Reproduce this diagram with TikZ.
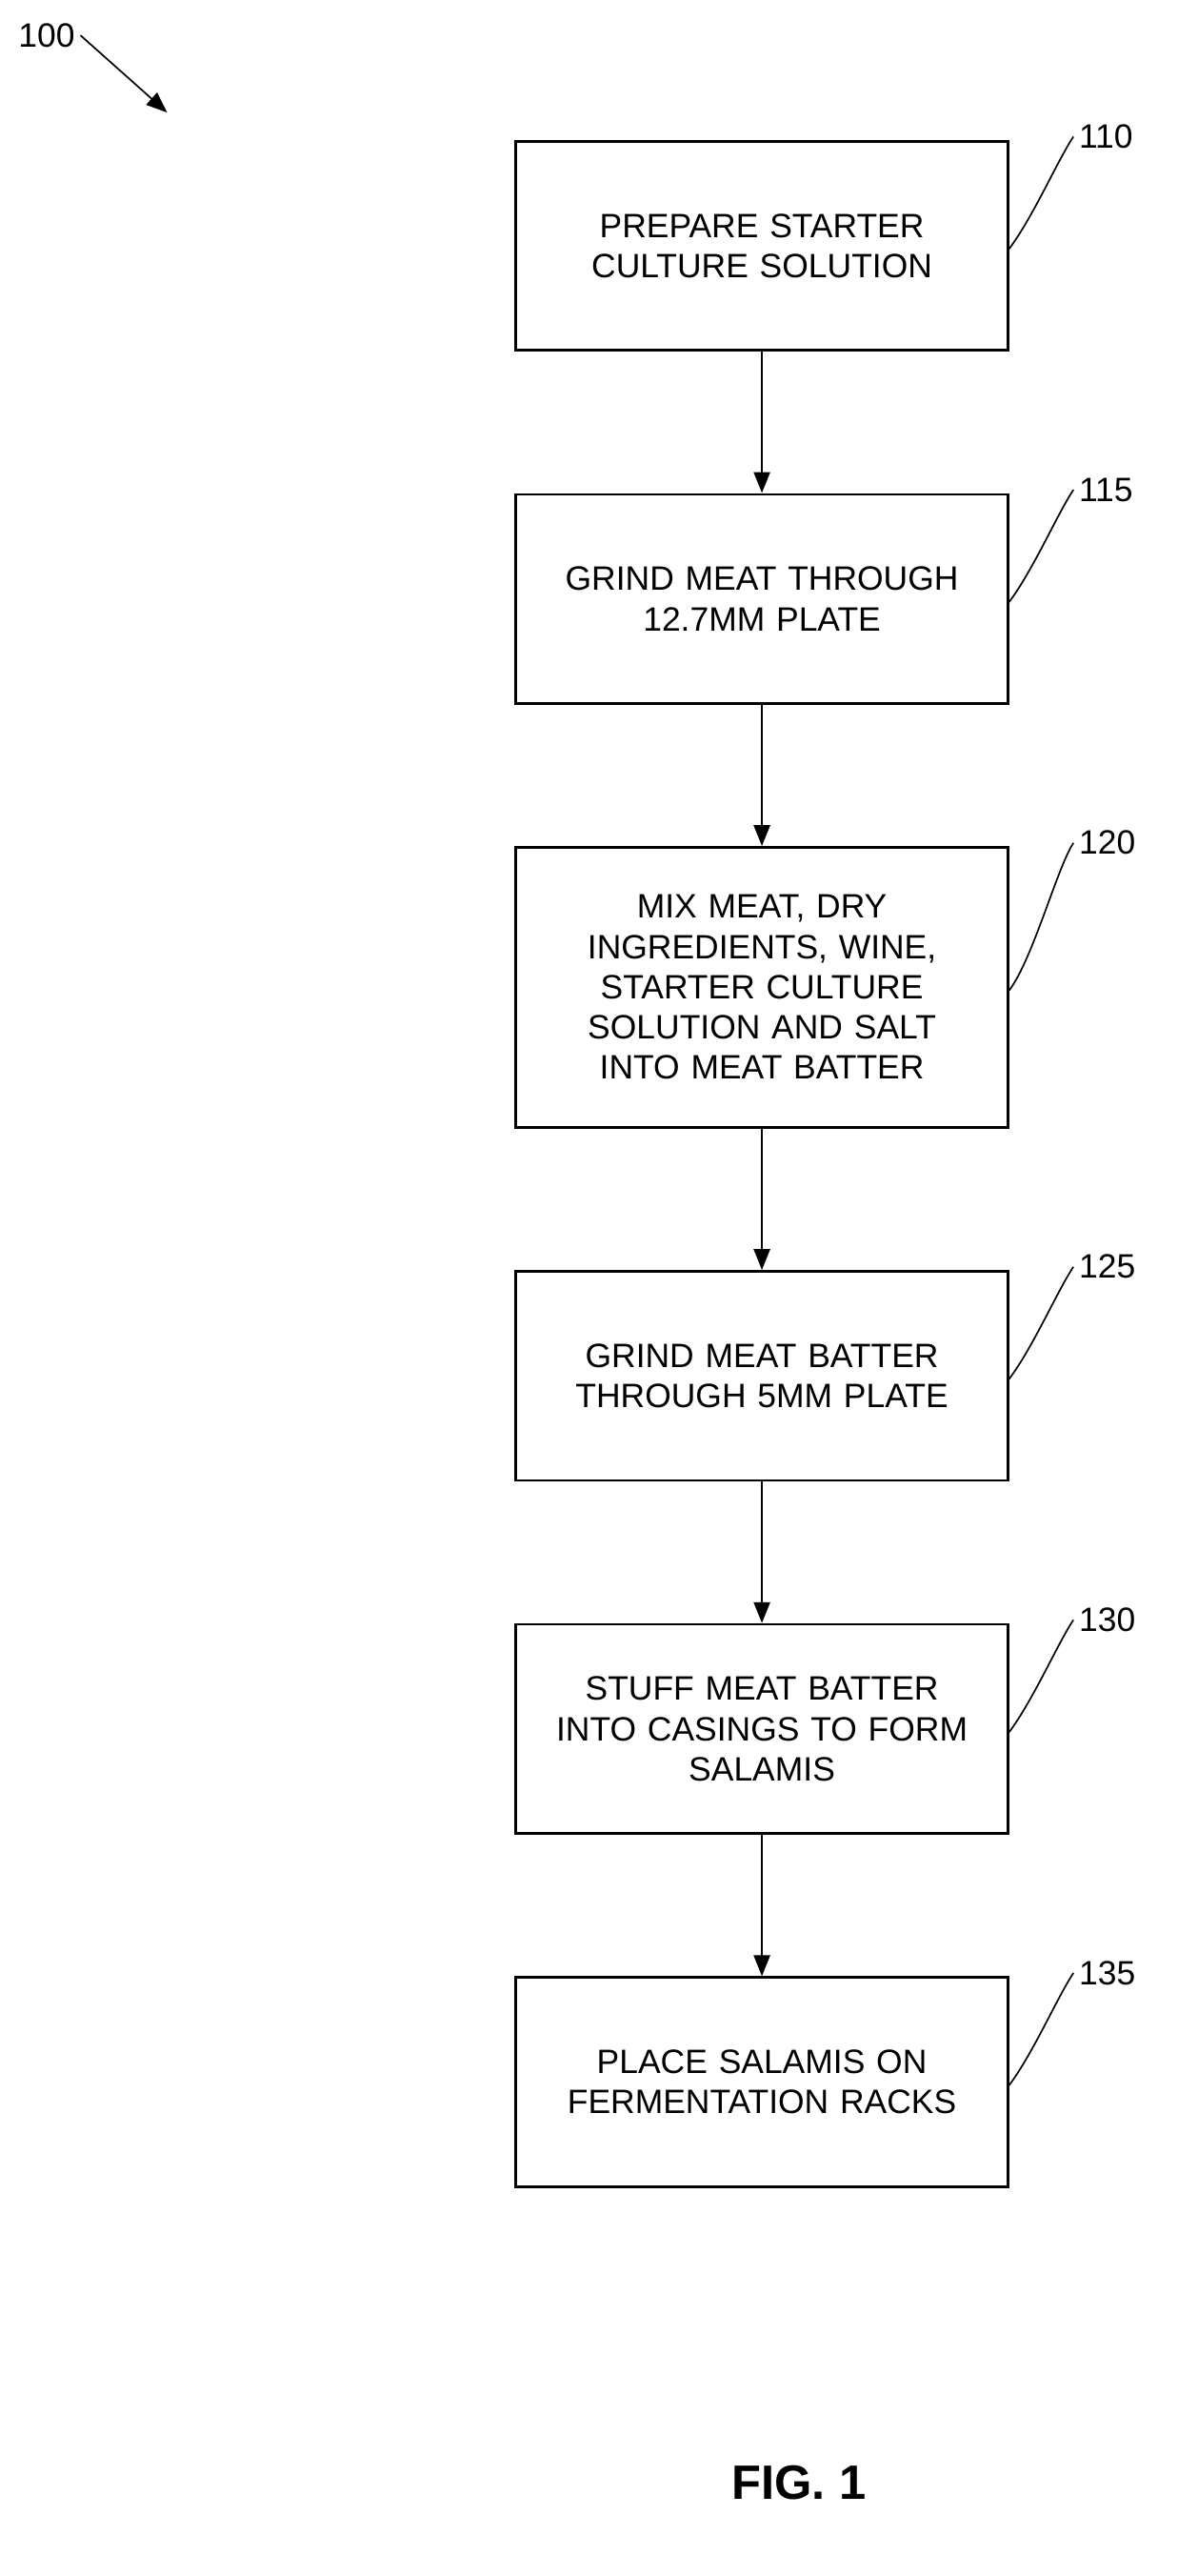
\documentclass[tikz,border=0pt]{standalone}
\usepackage{fontspec}
\setmainfont{Liberation Sans}
\usetikzlibrary{arrows.meta}
\usetikzlibrary{positioning}

\tikzset{
    stage/.style={draw, line width=1.6pt, minimum width=306pt, minimum height=130pt,
        text width=290pt, align=center, font=\fontsize{21}{25}\selectfont},
    flow/.style={line width=1.6pt, -{Triangle[length=13pt, width=10pt]}},
    lead/.style={line width=1pt},
    ref/.style={font=\fontsize{21}{25}\selectfont, anchor=west}
}

\begin{document}
\begin{tikzpicture}[x=1pt, y=1pt, node distance=88pt]
    \useasboundingbox (0, 0) rectangle (745, -1602);

    \node [stage, anchor=north] (prep) at (474, -87) {PREPARE STARTER\\CULTURE SOLUTION};
    \node [stage, below=of prep] (grind) {GRIND MEAT THROUGH\\12.7MM PLATE};
    \node [stage, below=of grind, minimum height=174pt] (mix) {MIX MEAT, DRY\\INGREDIENTS, WINE,\\STARTER CULTURE\\SOLUTION AND SALT\\INTO MEAT BATTER};
    \node [stage, below=of mix] (batter) {GRIND MEAT BATTER\\THROUGH 5MM PLATE};
    \node [stage, below=of batter] (stuff) {STUFF MEAT BATTER\\INTO CASINGS TO FORM\\SALAMIS};
    \node [stage, below=of stuff] (rack) {PLACE SALAMIS ON\\FERMENTATION RACKS};

    \draw [flow] (prep) -- (grind);
    \draw [flow] (grind) -- (mix);
    \draw [flow] (mix) -- (batter);
    \draw [flow] (batter) -- (stuff);
    \draw [flow] (stuff) -- (rack);

    % reference numerals
    \foreach \stg/\num in {prep/110, grind/115, mix/120, batter/125, stuff/130, rack/135} {
        \node [ref] (n\num) at ([xshift=40pt, yshift=2pt]\stg.north east) {\num};
        \draw [lead] ([yshift=-2pt]\stg.east) .. controls +(15pt, 20pt) and +(-10pt, -15pt) .. (n\num.west);
    }

    \node [ref] (fig) at (8, -22) {100};
    \coordinate (figtip) at (104, -70);
    \draw [line width=1pt, -{Triangle[length=13pt, width=10pt]}] (fig.east) -- (figtip);

    \node [font=\bfseries\fontsize{30}{34}\selectfont] (caption) at (497, -1544) {FIG. 1};
\end{tikzpicture}
\end{document}
